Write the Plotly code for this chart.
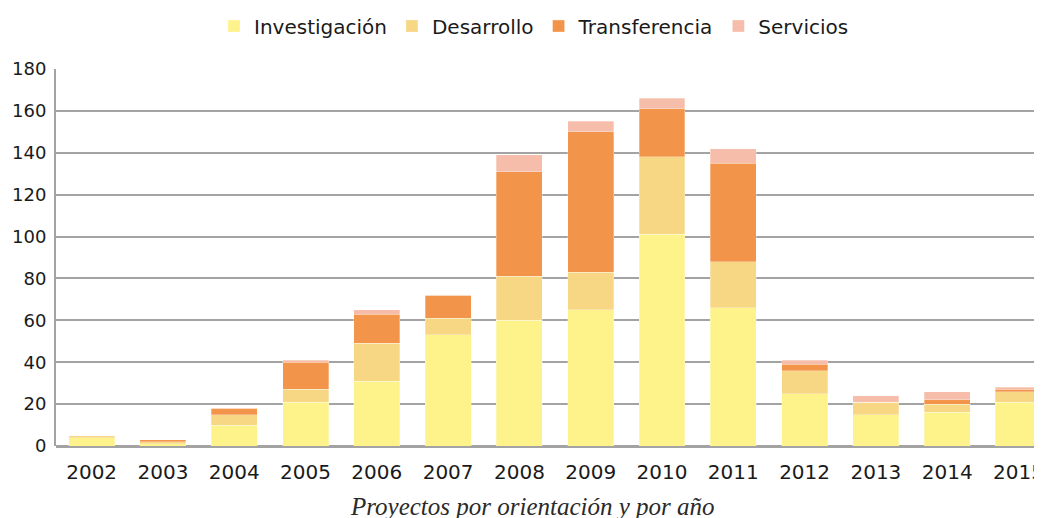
import plotly.graph_objects as go

years = ["2002", "2003", "2004", "2005", "2006", "2007", "2008", "2009",
         "2010", "2011", "2012", "2013", "2014", "2015"]
investigacion = [4, 1, 10, 21, 31, 53, 60, 65, 101, 66, 25, 15, 16, 21]
desarrollo = [1, 1, 5, 6, 18, 8, 21, 18, 37, 22, 11, 6, 4, 5]
transferencia = [0, 1, 3, 13, 14, 11, 50, 67, 23, 47, 3, 0, 2, 1]
servicios = [0, 0, 0, 1, 2, 0, 8, 5, 5, 7, 2, 3, 4, 1]

series = [
    ("Investigación", investigacion, "#FEF38B"),
    ("Desarrollo", desarrollo, "#F7D684"),
    ("Transferencia", transferencia, "#F2944A"),
    ("Servicios", servicios, "#F5BDAA"),
]

fig = go.Figure()
for name, vals, col in series:
    fig.add_trace(go.Bar(
        x=years, y=vals, name=name,
        marker=dict(color=col, line=dict(color="rgba(255,255,255,0.5)", width=0.6)),
    ))

# The page places the figure 8px in from the top-left corner,
# so the figure is sized to end exactly at the window edges.
W, H = 1034, 510
font_family = "'DejaVu Sans', sans-serif"
fig.update_layout(
    barmode="stack",
    bargap=0.355,
    width=W, height=H,
    margin=dict(l=48, r=0, t=61, b=72, autoexpand=False),
    plot_bgcolor="white", paper_bgcolor="white",
    font=dict(family=font_family, color="#1a1a1a", size=18),
    legend=dict(
        orientation="h", xref="container", yref="container",
        x=0.5087, xanchor="center", y=1 - 18 / H, yanchor="middle",
        font=dict(size=20, family=font_family, color="#1a1a1a"),
        itemwidth=30, traceorder="normal",
    ),
    showlegend=True,
)
fig.update_xaxes(
    type="category", range=[-0.5, 13.33], automargin=False,
    showgrid=False, ticks="", ticklabelstandoff=12,
    tickfont=dict(size=20, family=font_family),
    showline=False, zeroline=False,
)
fig.update_yaxes(
    range=[0, 180], dtick=20, automargin=False,
    showgrid=True, gridcolor="#A3A3A3", gridwidth=2,
    showline=True, linecolor="#A3A3A3", linewidth=2,
    zeroline=True, zerolinecolor="#A3A3A3", zerolinewidth=3,
    ticks="", ticklabelstandoff=4,
    tickfont=dict(size=18, family=font_family),
)
fig.add_annotation(
    text="<i>Proyectos por orientación y por año</i>",
    xref="paper", yref="paper", x=(524 - 48) / (W - 48), xanchor="center",
    y=(438 - 498) / 377, yanchor="middle", showarrow=False,
    font=dict(family="'Liberation Serif', 'DejaVu Serif', serif", size=25, color="#2a2a2a"),
)
fig.write_html("out.html")
